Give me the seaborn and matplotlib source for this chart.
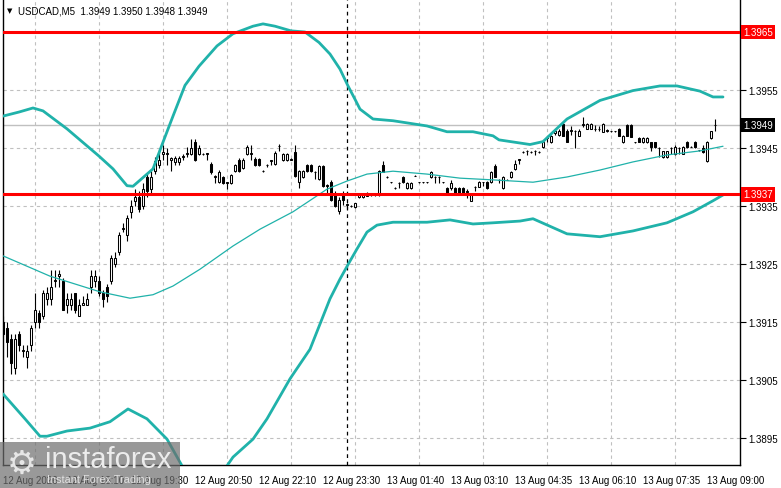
import numpy as np
import pandas as pd
import matplotlib
matplotlib.use("Agg")
import matplotlib.pyplot as plt
import matplotlib.transforms as mtransforms
from matplotlib.patches import Rectangle
import seaborn as sns

sns.set_style("white")
plt.rcParams['font.family'] = ['Liberation Sans', 'DejaVu Sans']

## all values are pips above 1.3900
BASE = 1.3900

opens = [15, 14, 12, 7, 13, 10, 9, 11, 15, 16.5,
         16, 19, 19, 22, 23, 22, 18, 18, 20, 16,
         18, 18, 21, 22, 22, 20, 21, 22, 25, 27,
         31, 30, 34, 35.8, 36.5, 35, 40, 38, 41, 42,
         44, 44, 43, 42.5, 42.5, 43.5, 44, 44, 46, 44,
         44, 44, 42.2, 40, 39.2, 40, 39, 39, 41, 43,
         41.5, 44, 44, 43.1, 43.1, 41, 42, 42.8, 42.2, 45.3,
         43, 43, 43, 44.3, 39.2, 40, 42, 42, 40.8, 39.7,
         41.9, 38.5, 39.1, 37, 34.2, 37, 35.2, 35, 34.8, 36.5,
         36.5, 36.8, 36.9, 37, 37, 42, 40, 39.1, 38.1, 39,
         40, 38.1, 38.1, 40.2, 39.1, 39.1, 39.1, 40, 40, 40,
         39.1, 38.1, 38.1, 38.1, 38.1, 38.1, 37.5, 35.9, 38.2, 38.3,
         39.1, 39.1, 39.1, 41.9, 39.5, 38.1, 39.5, 40, 41.4, 43,
         44.3, 44.5, 44.3, 44.5, 44.3, 45.2, 46.8, 46, 47.5, 47.2,
         49.1, 47.9, 48, 48, 47.1, 49, 48.3, 48.3, 48.3, 48.3,
         47.8, 48, 47.9, 47.9, 48.3, 46, 49, 49, 46, 46.8,
         46, 46, 46, 46, 45, 43.4, 43.4, 45, 44, 45,
         44, 46, 45.2, 46, 44.6, 45, 42.8, 46.7, 49]
highs = [16, 15, 13, 13, 13.5, 11, 11, 14.5, 20, 17,
         20.5, 21, 24, 24, 24, 22.5, 20, 20, 20, 19,
         19.5, 20, 24, 24, 23, 20.5, 21.5, 26.5, 27, 30.5,
         32, 33.5, 36, 38, 37.5, 39, 40.5, 41, 43.5, 44.8,
         45.5, 45, 43.5, 43.6, 43.6, 44, 45.2, 46.5, 46.5, 45.5,
         44.2, 44.2, 42.5, 40.3, 41.2, 40.2, 39.2, 40.5, 42.3, 43.3,
         43.3, 45.5, 45.5, 43.5, 43.3, 41.2, 42.3, 43, 44.5, 45.7,
         44.2, 44.2, 43.2, 45.5, 41.2, 41.2, 42.3, 42.3, 41, 42.1,
         42.1, 38.8, 39.5, 37.5, 36.5, 37.5, 35.5, 35.1, 35.6, 37.2,
         37.2, 37.4, 37, 37.2, 41.2, 42.8, 40.1, 39.2, 38.2, 39.1,
         40.2, 39.2, 39.2, 40.3, 39.2, 39.2, 39.2, 41, 40.1, 40.1,
         39.2, 38.3, 39.5, 38.2, 38.2, 38.3, 38, 37.2, 38.5, 39.3,
         39.2, 39.3, 41.1, 42.2, 39.6, 40.2, 39.6, 41.1, 43, 43.1,
         44.4, 44.6, 44.4, 44.6, 44.4, 46.2, 47, 47.3, 48.2, 48.3,
         49.5, 48.2, 48.8, 48.1, 48.2, 50.3, 49.3, 49.3, 49, 48.8,
         49.3, 48.2, 48, 48, 48.5, 47.2, 49.2, 49.2, 46.1, 46.9,
         46.9, 46.9, 46.1, 46.1, 45.1, 44.5, 44.5, 45.1, 45.5, 45.1,
         45.3, 46.2, 45.3, 46.2, 44.7, 45.6, 46.2, 48, 50]
lows = [12.5, 9, 6, 6, 10, 9, 7, 10, 14, 14,
        15.5, 18, 18, 21, 21, 17, 16.5, 17, 16.5, 16,
        18, 18, 20, 21, 19.5, 17.5, 18.5, 21.5, 24.5, 26.5,
        30.5, 29, 33, 35, 34, 34.5, 36.5, 37, 40.5, 41.5,
        43, 42, 41, 42, 42, 43, 43.5, 43.8, 42.8, 43.8,
        43.8, 43, 40.5, 39, 39, 38.8, 38, 38.8, 40.8, 40.8,
        41.3, 43.8, 43, 41.9, 41.9, 40.8, 41.8, 42, 42, 44.5,
        42.8, 42.8, 42.9, 40, 38.1, 39.8, 40.8, 40.8, 39.7, 39.5,
        38.3, 37.3, 35.9, 34.8, 33.6, 35.2, 34.5, 34.9, 34.6, 36.4,
        36.4, 36.7, 36.8, 36.8, 36.8, 40.9, 39.9, 39, 38, 38.1,
        39, 38, 38, 40.1, 39, 39, 39, 39.8, 39, 39,
        39, 37.1, 37.8, 37.1, 37.1, 37.1, 36.4, 35.8, 37.5, 38.2,
        38.5, 38, 39, 40, 39, 38, 39.4, 39.9, 41.2, 42.2,
        44.2, 43.8, 44.2, 43.8, 44.2, 45, 46, 45.9, 47.2, 47,
        47, 46, 47.2, 45, 47, 48.6, 48.2, 48.2, 48, 48,
        47.7, 47.8, 47.8, 47.8, 47, 45.9, 47, 46.9, 45.9, 46,
        45.9, 45.9, 44.5, 45, 43.4, 43.3, 43.3, 44, 43.8, 44,
        43.9, 45, 45.1, 45, 44.5, 44.2, 42.5, 46.5, 48]
closes = [13, 11.5, 8, 12, 11, 10.2, 10, 14, 17, 15,
          20, 20, 21, 22.3, 23.2, 17, 19, 19, 17, 18,
          18.3, 19, 23, 23, 20, 19, 19.5, 26, 26, 30,
          31.2, 33, 35, 36.5, 34.5, 38, 37.5, 40, 42.8, 43,
          44.3, 44.1, 43.2, 43.3, 43.3, 43.6, 44.2, 45, 43, 45,
          44.05, 44.1, 40.9, 40.1, 40.9, 39, 39.1, 40.3, 42, 41,
          43, 45.2, 44.2, 42, 42, 41.05, 42.1, 42.9, 44.2, 45.4,
          44, 44, 43.05, 40.2, 41, 41, 41, 41, 40.9, 41.9,
          38.4, 38.6, 36, 35, 36, 36, 35.3, 35.05, 35.5, 37,
          37, 37.3, 36.95, 37.1, 41, 40.9, 40.05, 39.15, 38.15, 39.05,
          39.1, 39, 39, 40.25, 39.15, 39.15, 39.15, 40.9, 40.05, 40.05,
          39.15, 37.1, 39, 37.1, 37.1, 37.2, 37.4, 37.1, 38.3, 39.2,
          39.15, 38.1, 40.9, 40, 39.55, 40, 39.55, 40.9, 42.2, 43.05,
          44.35, 44.55, 44.35, 44.55, 44.35, 46, 46.9, 47, 48, 48,
          47.1, 46, 48.1, 47.9, 48, 49.1, 49.1, 49.1, 48.35, 48.35,
          49.1, 48.05, 47.95, 47.95, 47.1, 47, 47, 46.9, 46.05, 46,
          46.8, 46.8, 45.2, 45.2, 45.05, 44.4, 44.4, 45.05, 45.2, 45.05,
          45.2, 45.2, 45.25, 45.2, 44.65, 44.3, 46, 47.9, 49]

## bollinger bands, read at some bars
upper_bars = [0, 4, 7.5, 10, 16, 24, 27.5, 31, 32.5, 34, 37.5, 40, 42.5, 45.5, 49,
              53.5, 57.5, 62.5, 65, 68, 72, 75.5, 79, 81.75, 84.25, 86.25, 88, 89.25,
              92.5, 97.5, 106, 111, 117.5, 122.5, 124, 131.75, 135, 141, 149.25,
              157.5, 164.25, 168.5, 174.25, 177.5, 180]
upper_vals = [50.5, 51.2, 51.9, 51.4, 48.3, 43.6, 41.4, 38.5, 38.4, 39.3, 41.4, 46, 50.5, 55.8, 59.1,
              62.6, 64.7, 66, 66.4, 66, 65.2, 65, 63.2, 61.2, 58.6, 55.7, 53.4, 51.7,
              50, 49.7, 48.8, 47.8, 47.8, 47.1, 46.4, 45.6, 46.1, 50, 53.2,
              54.9, 55.7, 55.7, 54.8, 53.8, 53.8]
mid_bars = [0, 11.75, 24.25, 31.75, 37.5, 42.5, 49.25, 57.5, 64.25, 72.5, 81, 86, 91,
            97.5, 106, 114.25, 122.5, 132.5, 141, 149.25, 157.5, 166, 174.25, 180]
mid_vals = [26.4, 22.9, 20.2, 19.1, 19.7, 21.2, 24.1, 28.1, 31, 34, 37.9, 39.3, 40.5,
            41, 40.5, 39.8, 39.5, 39.1, 40, 41.2, 42.6, 43.8, 44.5, 45.3]
lower_bars = [0, 5.5, 9.25, 11, 16, 21.75, 26.75, 31.25, 36, 41, 44.75, 48, 51, 54, 56,
              57.5, 62.5, 66, 71.75, 76.75, 81.75, 84.25, 86.75, 88.5, 91, 93.5, 97.5,
              106, 111.75, 117.5, 122.5, 129.25, 132.5, 141, 149.25, 157.5, 166, 172.5,
              177.5, 180]
lower_vals = [2.6, -1.7, -4.7, -4.7, -3.8, -3.3, -2.2, 0, -1.7, -5.2, -9.8, -13, -13.5, -12, -9.8,
              -8.3, -5.2, -1.7, 5.2, 10.3, 19, 22.4, 25.5, 27.6, 30.5, 31.7, 32.2,
              32.2, 32.6, 31.9, 32.1, 32.4, 32.8, 30.2, 29.7, 30.7, 32.1, 34,
              35.9, 36.9]

tick_bars = [0, 16, 32, 48, 64, 80, 96, 112, 128, 144, 160, 176]
tick_labels = ["12 Aug 2026", "12 Aug 18:10", "12 Aug 19:30", "12 Aug 20:50",
               "12 Aug 22:10", "12 Aug 23:30", "13 Aug 01:40", "13 Aug 03:10",
               "13 Aug 04:35", "13 Aug 06:10", "13 Aug 07:35", "13 Aug 09:00"]
price_ticks = [1.3895, 1.3905, 1.3915, 1.3925, 1.3935, 1.3945, 1.3955]
levels = [1.3965, 1.3937]
last_price = 1.3949
separator_bar = 86


def to_price(p):
    return BASE + np.asarray(p, dtype=float) / 10000.0


df = pd.DataFrame({'open': to_price(opens), 'high': to_price(highs),
                   'low': to_price(lows), 'close': to_price(closes)})
df['bar'] = np.arange(len(df))

fig = plt.figure(figsize=(7.81, 4.89), dpi=100)
ax = fig.add_axes([2.5 / 781, 23 / 489, 737.5 / 781, 466 / 489])
ax.set_xlim(-0.125, 184.25)
ax.set_ylim(to_price(-9.66), to_price(70.69))

# grid
ax.set_xticks(np.arange(0, 184, 8), minor=True)
ax.set_xticks(tick_bars)
ax.set_xticklabels(tick_labels)
ax.set_yticks(price_ticks)
ax.set_yticklabels(['%.4f' % v for v in price_ticks])
ax.grid(which='minor', axis='x', color='#c0c0c0', linestyle=(0, (3, 3)), linewidth=0.8)
ax.grid(which='major', axis='y', color='#c0c0c0', linestyle=(0, (3, 3)), linewidth=0.8)
ax.set_axisbelow(True)

# price line
ax.axhline(last_price, color='#c0c0c0', linewidth=1.0, zorder=1)
# day separator
ax.axvline(separator_bar, color='black', linestyle=(0, (3, 3)), linewidth=0.9, zorder=1)

# candles
up = df['close'] >= df['open']
ax.vlines(df['bar'], df['low'], df['high'], color='black', linewidth=0.8, zorder=3)
body_lo = np.minimum(df['open'], df['close'])
body_h = np.maximum(np.abs(df['close'] - df['open']), 0.000004)
ax.bar(df['bar'][up], body_h[up], bottom=body_lo[up], width=0.72,
       facecolor='white', edgecolor='black', linewidth=0.75, zorder=4)
ax.bar(df['bar'][~up], body_h[~up], bottom=body_lo[~up], width=0.72,
       facecolor='black', edgecolor='black', linewidth=0.75, zorder=4)

# bands
teal = '#20b2aa'
sns.lineplot(x=upper_bars, y=to_price(upper_vals), ax=ax, color=teal, linewidth=2.0, zorder=5)
sns.lineplot(x=mid_bars, y=to_price(mid_vals), ax=ax, color=teal, linewidth=0.9, zorder=5)
sns.lineplot(x=lower_bars, y=to_price(lower_vals), ax=ax, color=teal, linewidth=2.0, zorder=5)

# levels
for lv in levels:
    ax.axhline(lv, color='#ff0000', linewidth=2.2, zorder=6)

# axes look
for side in ['left', 'bottom', 'right']:
    ax.spines[side].set_color('black')
    ax.spines[side].set_linewidth(1.0)
ax.spines['top'].set_visible(False)
ax.yaxis.tick_right()
ax.tick_params(axis='y', which='major', direction='out', length=4, width=0.8,
               labelsize=7, pad=2, colors='black')
ax.tick_params(axis='x', which='major', direction='out', length=4, width=0.8,
               labelsize=7, pad=3, colors='black')
ax.tick_params(axis='x', which='minor', length=0)
for lab in ax.get_xticklabels():
    lab.set_ha('left')
ax.set_xlabel('')
ax.set_ylabel('')

# value boxes on price scale
trans = mtransforms.blended_transform_factory(ax.transAxes, ax.transData)
for lv in levels:
    ax.text(1.004, lv, '%.4f' % lv, transform=trans, ha='left', va='center',
            fontsize=7, color='white', clip_on=False, zorder=10,
            bbox=dict(boxstyle='square,pad=0.22', facecolor='#ff0000', edgecolor='none'))
ax.text(1.004, last_price, '%.4f' % last_price, transform=trans, ha='left', va='center',
        fontsize=7, color='white', clip_on=False, zorder=10,
        bbox=dict(boxstyle='square,pad=0.22', facecolor='black', edgecolor='none'))

# header
fig.text(7 / 781, 1 - 11 / 489, '\u25bc', fontsize=5, color='black',
         family=['DejaVu Sans'], va='center', ha='left')
fig.text(18 / 781, 1 - 11 / 489, 'USDCAD,M5  1.3949 1.3950 1.3948 1.3949',
         fontsize=7, color='black', va='center', ha='left')

# watermark
fig.patches.append(Rectangle((0, 0), 180 / 781, 46 / 489, transform=fig.transFigure,
                             facecolor='#6e6e6e', alpha=0.7, edgecolor='none', zorder=20))
fig.text(7 / 781, 1 - 464 / 489, '\u2699', fontsize=24, color='#e6e6e6',
         family=['DejaVu Sans'], va='center', ha='left', zorder=21)
fig.text(45 / 781, 1 - 460 / 489, 'instaforex', fontsize=21, color='#ececec',
         va='center', ha='left', zorder=21)
fig.text(47 / 781, 1 - 480 / 489, 'Instant Forex Trading', fontsize=7.8, color='#e0e0e0',
         va='center', ha='left', zorder=21)

fig.savefig('out.png', dpi=100)
